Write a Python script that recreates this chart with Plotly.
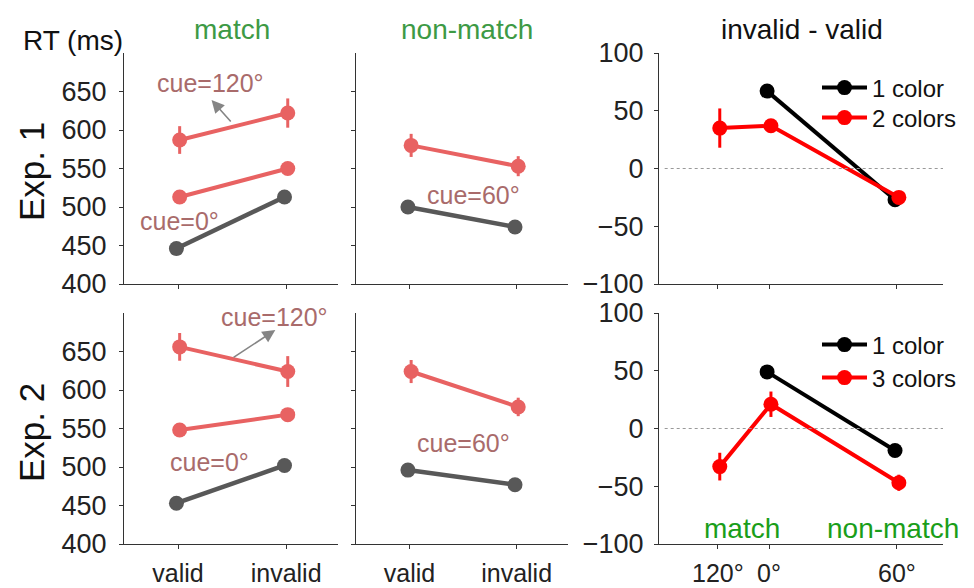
import plotly.graph_objects as go

# ---------------- data ----------------
conds = ["valid", "invalid"]
cond_x = [1, 2]

# Exp. 1
e1_match_120 = [587, 622]; e1_match_120_err = [18, 19]
e1_match_0 = [513, 550];   e1_match_0_err = [7, 7]
e1_match_1c = [446, 513]
e1_non_60 = [580, 553];    e1_non_60_err = [15, 13]
e1_non_1c = [500, 474]

# Exp. 2
e2_match_120 = [656, 624]; e2_match_120_err = [18, 20]
e2_match_0 = [548, 568];   e2_match_0_err = [6, 6]
e2_match_1c = [453, 502]
e2_non_60 = [624, 578];    e2_non_60_err = [15, 12]
e2_non_1c = [496, 477]

# invalid - valid
cue_labels = ["120°", "0°", "60°"]
cue_x = [-0.4, 0, 1]
e1_diff_1c = [67, -27]; e1_diff_1c_err = [3, 3]
e1_diff_2c = [35, 37, -25]; e1_diff_2c_err = [17, 3, 3]
e2_diff_1c = [49, -19]; e2_diff_1c_err = [6, 3]
e2_diff_3c = [-33, 21, -47]; e2_diff_3c_err = [12, 11, 7]

RED = "#e86262"
GRAY = "#585858"
LBL = "#a96b6b"
GREEN_T = "#3d9a45"
GREEN_B = "#1a9e1a"
FONT = "Liberation Sans, Arial, sans-serif"

# page body has an 8px margin: work in reference pixels, shift by 8
OFF = 8
W, H = 974 - OFF, 588 - OFF
def px(x): return (x - OFF) / W
def py(y): return 1 - (y - OFF) / H

fig = go.Figure()

def jit(xs, d):
    return [x + d for x in xs]

def cond_trace(y, color, ax, err=None, d=0.0, lw=4):
    tr = dict(x=jit(cond_x, d), y=y, mode="lines+markers",
              line=dict(color=color, width=lw),
              marker=dict(color=color, size=15),
              xaxis=ax[0], yaxis=ax[1], showlegend=False, hoverinfo="skip")
    if err is not None:
        tr["error_y"] = dict(type="data", array=err, color=color, thickness=3, width=0)
    fig.add_trace(go.Scatter(**tr))

P = {
    "e1m": ("x", "y"), "e1n": ("x2", "y2"), "e1d": ("x3", "y3"),
    "e2m": ("x4", "y4"), "e2n": ("x5", "y5"), "e2d": ("x6", "y6"),
}

cond_trace(e1_match_1c, GRAY, P["e1m"], d=-0.015, lw=4.5)
cond_trace(e1_match_0, RED, P["e1m"], e1_match_0_err, d=0.015)
cond_trace(e1_match_120, RED, P["e1m"], e1_match_120_err, d=0.015)
cond_trace(e1_non_1c, GRAY, P["e1n"], d=-0.015, lw=4.5)
cond_trace(e1_non_60, RED, P["e1n"], e1_non_60_err, d=0.015)

cond_trace(e2_match_1c, GRAY, P["e2m"], d=-0.015, lw=4.5)
cond_trace(e2_match_0, RED, P["e2m"], e2_match_0_err, d=0.015)
cond_trace(e2_match_120, RED, P["e2m"], e2_match_120_err, d=0.015)
cond_trace(e2_non_1c, GRAY, P["e2n"], d=-0.015, lw=4.5)
cond_trace(e2_non_60, RED, P["e2n"], e2_non_60_err, d=0.015)

def diff_trace(xs, y, err, color, name, ax, legend, d):
    fig.add_trace(go.Scatter(
        x=jit(xs, d), y=y, mode="lines+markers", name=name,
        line=dict(color=color, width=4), marker=dict(color=color, size=15),
        error_y=dict(type="data", array=err, color=color, thickness=3, width=0),
        xaxis=ax[0], yaxis=ax[1], legend=legend, showlegend=True, hoverinfo="skip"))

diff_trace(cue_x[1:], e1_diff_1c, e1_diff_1c_err, "black", "1 color", P["e1d"], "legend", -0.015)
diff_trace(cue_x, e1_diff_2c, e1_diff_2c_err, "#ff0000", "2 colors", P["e1d"], "legend2", 0.015)
diff_trace(cue_x[1:], e2_diff_1c, e2_diff_1c_err, "black", "1 color", P["e2d"], "legend3", -0.015)
diff_trace(cue_x, e2_diff_3c, e2_diff_3c_err, "#ff0000", "3 colors", P["e2d"], "legend4", 0.015)

# ---------------- layout ----------------
def fx(a, b): return [px(a), px(b)]
def fy(top, bot): return [py(bot), py(top)]

XD = [fx(124, 338), fx(356, 568), fx(659, 943)]
YD = [fy(53, 284), fy(313, 544)]

axis_common = dict(showline=True, linecolor="#333333", linewidth=1, showgrid=False,
                   zeroline=False, ticks="outside", ticklen=4, tickcolor="#333333",
                   automargin=False,
                   tickfont=dict(family=FONT, size=27, color="#222222"))
xfont = dict(family=FONT, size=25, color="#222222")

lay = {}
for r in range(2):
    for c in range(3):
        i = r * 3 + c + 1
        xs = "xaxis" if i == 1 else f"xaxis{i}"
        ys = "yaxis" if i == 1 else f"yaxis{i}"
        ya = "y" if i == 1 else f"y{i}"
        xa = "x" if i == 1 else f"x{i}"
        if c < 2:
            xa_d = dict(axis_common, domain=XD[c], anchor=ya, range=[0.5, 2.48],
                        tickvals=cond_x, ticktext=conds, showticklabels=(r == 1),
                        ticklabelstandoff=3, tickfont=xfont)
            ya_d = dict(axis_common, domain=YD[r], anchor=xa, range=[400, 700],
                        tickvals=[400, 450, 500, 550, 600, 650],
                        showticklabels=(c == 0), ticklabelstandoff=7)
        else:
            xa_d = dict(axis_common, domain=XD[c], anchor=ya, range=[-0.86, 1.36],
                        tickvals=cue_x, ticktext=cue_labels, showticklabels=(r == 1),
                        ticklabelstandoff=3, tickfont=xfont)
            ya_d = dict(axis_common, domain=YD[r], anchor=xa, range=[-100, 100],
                        tickvals=[-100, -50, 0, 50, 100], ticklabelstandoff=5)
        lay[xs] = xa_d
        lay[ys] = ya_d

fig.update_layout(**lay)

# zero lines
for xr, yr in [("x3", "y3"), ("x6", "y6")]:
    fig.add_shape(type="line", xref=f"{xr} domain", yref=yr, x0=0.02, x1=1.0, y0=0, y1=0,
                  line=dict(color="#999999", width=1.2, dash="dot"))

ann = []
def A(text, x, y, size=22, color=LBL, xref="paper", yref="paper", **kw):
    ann.append(dict(text=text, x=x, y=y, xref=xref, yref=yref, showarrow=False,
                    xanchor="center", yanchor="middle",
                    font=dict(family=FONT, size=size, color=color), **kw))

# titles (reference pixel positions)
A("match", px(232), py(30), 28, GREEN_T)
A("non-match", px(467), py(30), 28, GREEN_T)
A("invalid - valid", px(802), py(30), 28, "#111111")
A("RT (ms)", px(73), py(40), 28, "#111111")
A("Exp. 1", px(31), py(172), 35, "#111111", textangle=-90)
A("Exp. 2", px(31), py(433), 35, "#111111", textangle=-90)
A("match", px(742), py(528), 28, GREEN_B)
A("non-match", px(893), py(528), 28, GREEN_B)

# cue labels
A("cue=120°", 1.30, 661, 25, xref="x", yref="y")
A("cue=0°", 1.01, 482, 25, xref="x", yref="y")
A("cue=60°", 1.60, 516, 25, xref="x2", yref="y2")
A("cue=120°", 1.89, 695, 25, xref="x4", yref="y4")
A("cue=0°", 1.29, 506, 25, xref="x4", yref="y4")
A("cue=60°", 1.50, 531, 25, xref="x5", yref="y5")

# arrows
ann.append(dict(x=1.31, y=639, ax=1.50, ay=609, xref="x", yref="y", axref="x", ayref="y",
                showarrow=True, arrowhead=2, arrowsize=1.6, arrowwidth=1.6, arrowcolor="#858585", text=""))
ann.append(dict(x=1.90, y=678, ax=1.50, ay=641, xref="x4", yref="y4", axref="x4", ayref="y4",
                showarrow=True, arrowhead=2, arrowsize=1.6, arrowwidth=1.6, arrowcolor="#858585", text=""))

def leg(yc):
    return dict(font=dict(family=FONT, size=24, color="#111111"), bgcolor="rgba(0,0,0,0)",
                itemwidth=45, xanchor="left", yanchor="middle", x=px(817), y=py(yc),
                borderwidth=0)

fig.update_layout(
    template="none",
    annotations=ann,
    width=W, height=H, margin=dict(l=0, r=0, t=0, b=0, autoexpand=False),
    paper_bgcolor="white", plot_bgcolor="white",
    legend=leg(88), legend2=leg(118), legend3=leg(345), legend4=leg(378),
)

fig.write_html("out.html")
